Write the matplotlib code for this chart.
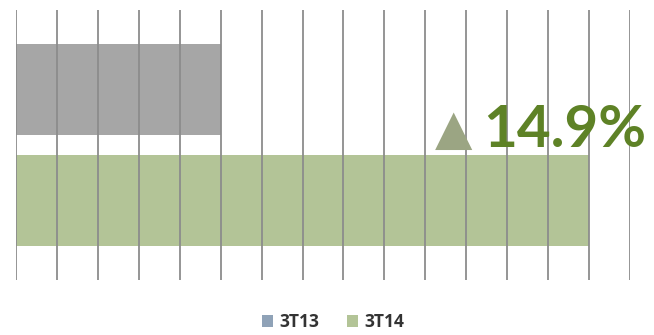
import matplotlib.pyplot as plt
from matplotlib.patches import Patch

# data
series = ["3T13", "3T14"]
values = [5, 14]
bar_colors = ["#a6a6a6", "#b3c497"]
legend_colors = ["#8fa2b7", "#b3c497"]
change_label = "14.9%"
grid_ticks = list(range(0, 16))

fig = plt.figure(figsize=(6.54, 3.35), dpi=100)
ax = fig.add_axes([16 / 654, 55 / 335, 614 / 654, 270 / 335])

ypos = [1, 0]
ax.barh(ypos, values, height=0.82, color=bar_colors, zorder=1)

ax.set_xlim(0, 15)
ax.set_ylim(-0.72, 1.72)
ax.set_xticks(grid_ticks)
ax.set_yticks([])
ax.tick_params(axis="x", length=0, labelbottom=False)
ax.set_axisbelow(False)
ax.grid(axis="x", color="#8c8c8c", linewidth=1.3)
for s in ax.spines.values():
    s.set_visible(False)

# change annotation
ax.text(454 / 654, 1 - 130 / 335, "\u25b2", transform=fig.transFigure,
        ha="center", va="center", fontsize=35, color="#9ba583",
        family="DejaVu Sans")
ax.text(483 / 654, 1 - 131 / 335, change_label, transform=fig.transFigure,
        ha="left", va="center", fontsize=42, fontweight="bold",
        color="#5e8226", family="Lato")

handles = [Patch(facecolor=c, edgecolor="none") for c in legend_colors]
fig.legend(handles, series, loc="center", bbox_to_anchor=(0.51, 1 - 322 / 335),
           ncol=2, frameon=False, handlelength=0.6, handleheight=0.7,
           handletextpad=0.4, columnspacing=1.6,
           prop={"family": "Open Sans", "weight": "bold", "size": 12.5})
for t in fig.legends[0].get_texts():
    t.set_color("#333333")

fig.savefig("out.png", dpi=100)
